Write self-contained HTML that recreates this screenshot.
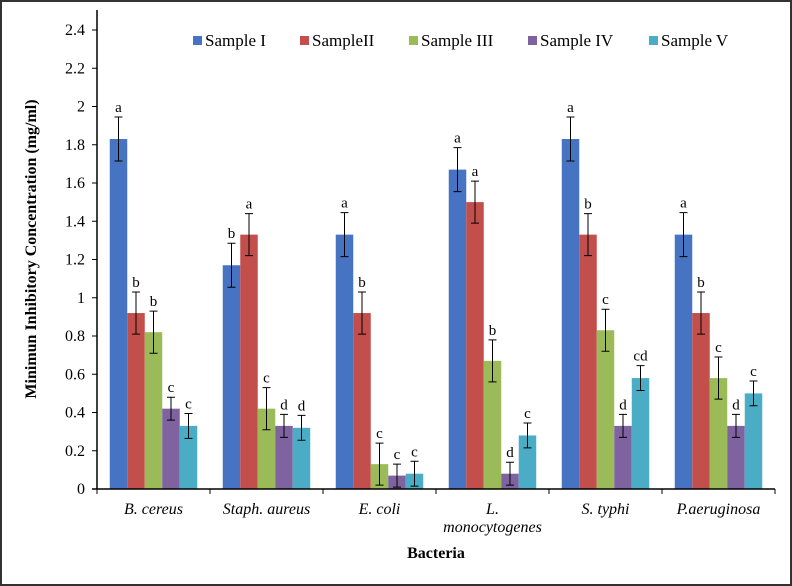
<!DOCTYPE html>
<html><head><meta charset="utf-8">
<style>
html,body{margin:0;padding:0;background:#fff}
svg{display:block;font-family:"Liberation Serif",serif}
</style></head>
<body>
<svg id="chart" width="792" height="586" viewBox="0 0 792 586" xmlns="http://www.w3.org/2000/svg">
<rect x="1" y="1" width="790" height="584" fill="#fff" stroke="#333" stroke-width="2"/>
<g id="bars"></g>
<g id="axes"></g>
<g id="legend"></g>
<text x="0" y="0" transform="translate(36,249) rotate(-90)" text-anchor="middle" font-weight="bold" font-size="16">Minimun Inhibitory Concentration (mg/ml)</text>
<text x="436" y="558" text-anchor="middle" font-weight="bold" font-size="16">Bacteria</text>
</svg>
<script>
const categories = [["B. cereus"],["Staph. aureus"],["E. coli"],["L.","monocytogenes"],["S. typhi"],["P.aeruginosa"]];
const seriesNames = ["Sample I","SampleII","Sample III","Sample IV","Sample V"];
const s1 = [1.83,1.17,1.33,1.67,1.83,1.33];
const s2 = [0.92,1.33,0.92,1.50,1.33,0.92];
const s3 = [0.82,0.42,0.13,0.67,0.83,0.58];
const s4 = [0.42,0.33,0.07,0.08,0.33,0.33];
const s5 = [0.33,0.32,0.08,0.28,0.58,0.50];
const errors = [0.115,0.11,0.11,0.06,0.065];
const letters1 = ["a","b","a","a","a","a"];
const letters2 = ["b","a","b","a","b","b"];
const letters3 = ["b","c","c","b","c","c"];
const letters4 = ["c","d","c","d","d","d"];
const letters5 = ["c","d","c","c","cd","c"];
const yTicks = [0,0.2,0.4,0.6,0.8,1,1.2,1.4,1.6,1.8,2,2.2,2.4];
const tickLabels = ["0","0.2","0.4","0.6","0.8","1","1.2","1.4","1.6","1.8","2","2.2","2.4"];

const series=[s1,s2,s3,s4,s5];
const letters=[letters1,letters2,letters3,letters4,letters5];
const colors=["#4673c2","#c34f4c","#9bbb59","#7f63a1","#4bacc6"];
const NS="http://www.w3.org/2000/svg";
const X0=97,X1=775,Y0=489,Ytop=30,YMAX=2.4;
const catW=(X1-X0)/categories.length, barW=17.5;
function y(v){return Y0-(v/YMAX)*(Y0-Ytop);}
function xc(i){return X0+catW*(i+0.5);}
function mk(tag,attrs,parent,txt){const e=document.createElementNS(NS,tag);for(const k in attrs)e.setAttribute(k,attrs[k]);if(txt!==undefined)e.textContent=txt;parent.appendChild(e);return e;}
const bars=document.getElementById('bars'),axes=document.getElementById('axes'),leg=document.getElementById('legend');
series.forEach((s,si)=>{
  s.forEach((v,ci)=>{
    const bx=xc(ci)-barW*2.5+si*barW;
    const r=mk('rect',{x:bx,y:y(v),width:barW,height:Y0-y(v),fill:colors[si]},bars);
    
    
    const cx=bx+barW/2,e=errors[si];
    const eb=mk('path',{d:`M${cx},${y(v+e)}V${y(v-e)}M${cx-4},${y(v+e)}H${cx+4}M${cx-4},${y(v-e)}H${cx+4}`,stroke:'#000','stroke-width':1,fill:'none'},bars);
    
    
    const t=mk('text',{x:cx,y:y(v+e)-5,'text-anchor':'middle','font-size':15},bars,letters[si][ci]);
    
    
  });
});
const ya=mk('line',{x1:X0,y1:10,x2:X0,y2:Y0,stroke:'#000','stroke-width':1.5},axes);


const xa=mk('line',{x1:X0-5,y1:Y0,x2:X1,y2:Y0,stroke:'#000','stroke-width':1.5},axes);


yTicks.forEach((v,i)=>{
  mk('line',{x1:X0-5,y1:y(v),x2:X0,y2:y(v),stroke:'#000'},axes);
  const t=mk('text',{x:X0-12,y:y(v)+5,'text-anchor':'end','font-size':16},axes,tickLabels[i]);
  
  
});
for(let i=0;i<=categories.length;i++){mk('line',{x1:X0+catW*i,y1:Y0,x2:X0+catW*i,y2:Y0+5,stroke:'#000'},axes);}
categories.forEach((c,i)=>{
  c.forEach((ln,j)=>{
    const t=mk('text',{x:xc(i),y:514+j*18,'text-anchor':'middle','font-size':16,'font-style':'italic'},axes,ln);
    
    
  });
});
const lx=[193,300,409,528,649];
seriesNames.forEach((n,i)=>{
  const g=mk('g',{},leg);
  
  
  mk('rect',{x:lx[i],y:36,width:9,height:9,fill:colors[i]},g);
  mk('text',{x:lx[i]+12,y:46,'font-size':17},g,n);
});
</script>
</body></html>
